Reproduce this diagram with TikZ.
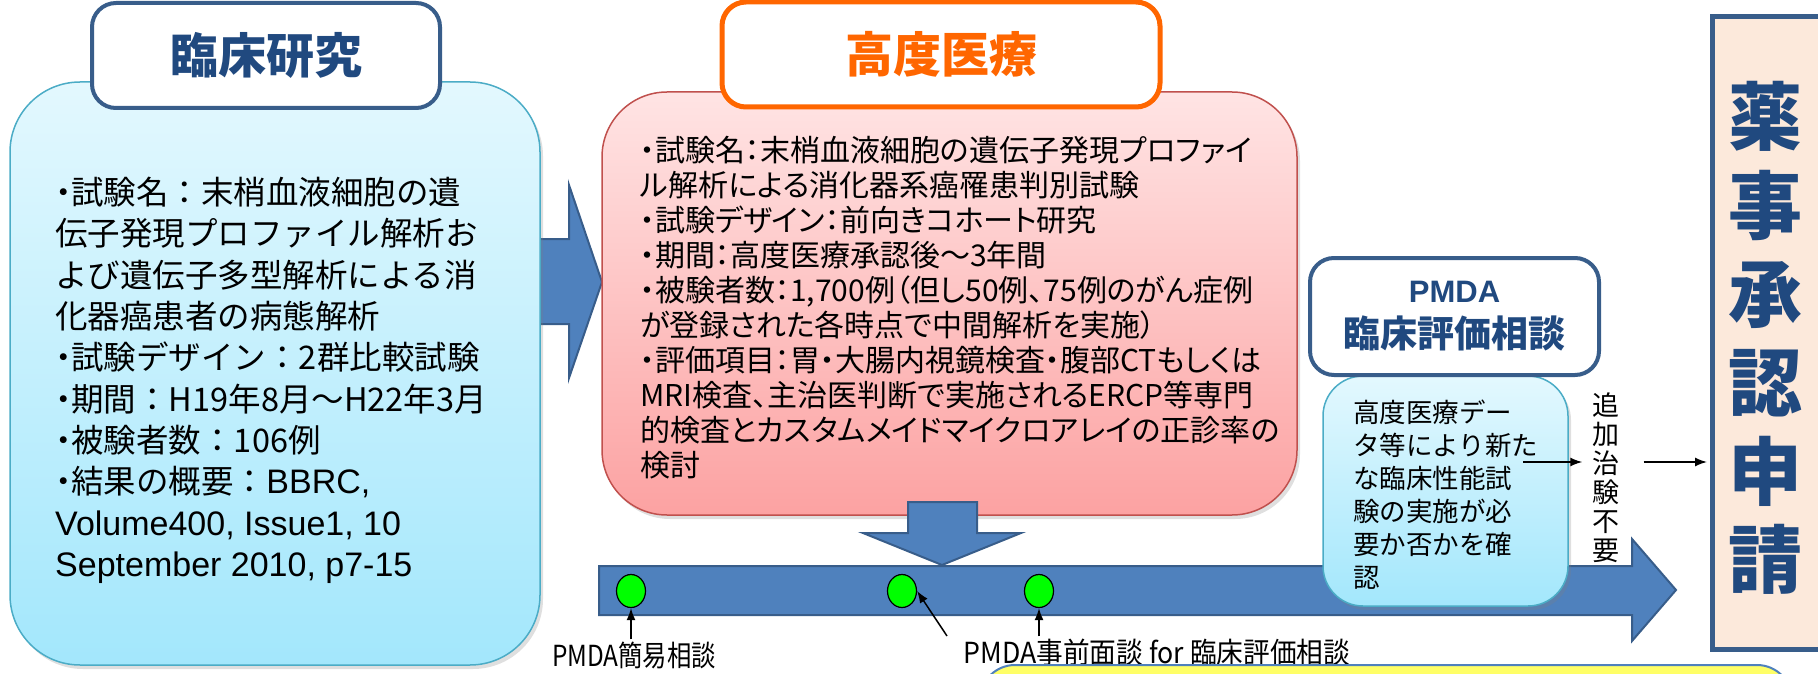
\documentclass[tikz,border=0pt]{standalone}
\usepackage{fontspec}
\setmainfont{Noto Sans CJK JP}
\newfontfamily\lat{Liberation Sans}
\newfontfamily\pj[RawFeature=+palt]{Noto Sans CJK JP}
\newfontfamily\nj[FakeStretch=0.84]{Noto Sans CJK JP}
\newfontfamily\njw[FakeStretch=0.92]{Noto Sans CJK JP}
\newcommand\bul{{\pj ・}}
\usetikzlibrary{shadows,arrows.meta,shapes.geometric}
\definecolor{navy}{HTML}{20497F}
\definecolor{boxblue}{HTML}{385D8A}
\definecolor{arrowfill}{HTML}{4F81BD}
\definecolor{cyanborder}{HTML}{4BACC6}
\definecolor{cyantop}{HTML}{E3F8FE}
\definecolor{cyanbot}{HTML}{A3E7FC}
\definecolor{pinkborder}{HTML}{C0504D}
\definecolor{pinktop}{HTML}{FFE4E4}
\definecolor{pinkbot}{HTML}{FCA2A2}
\definecolor{orangeC}{HTML}{FF6600}
\definecolor{peach}{HTML}{FCE9DB}
\definecolor{yellowC}{HTML}{FFFF66}
\definecolor{greenC}{HTML}{00FF00}
\tikzset{
  rbox/.style={anchor=north west, inner sep=0pt, outer sep=0pt},
  shade/.style={drop shadow={opacity=0.25, shadow xshift=3pt, shadow yshift=-4pt}},
  cyanbox/.style={rbox, draw=cyanborder, line width=1.5pt, top color=cyantop, bottom color=cyanbot, shade},
  pinkbox/.style={rbox, draw=pinkborder, line width=1.5pt, top color=pinktop, bottom color=pinkbot, rounded corners=65pt, shade},
  titlebox/.style={rbox, fill=white, rounded corners=24pt},
  blockarrow/.style={fill=arrowfill, draw=boxblue, line width=2pt, line join=miter},
  txt/.style={anchor=north west, inner sep=0pt, align=left},
  dot/.style={ellipse, draw=black, line width=1.2pt, fill=greenC, minimum width=29pt, minimum height=33pt, inner sep=0pt},
  conn/.style={draw=black, line width=1.5pt, -{Latex[length=12pt,width=9pt]}},
  lbl/.style={inner sep=2pt, font=\nj\fontsize{29}{32}\selectfont},
}
\begin{document}
\begin{tikzpicture}[x=1pt,y=-1pt]
\useasboundingbox (0,0) rectangle (1818,674);
\clip (0,0) rectangle (1818,674);

% arrow from clinical research to advanced medicine
\draw[blockarrow] (536,239) -- (569,239) -- (569,185) -- (602,282) -- (569,378) -- (569,324) -- (536,324) -- cycle;

% clinical research
\node[cyanbox, rounded corners=70pt, minimum width=530pt, minimum height=583pt] (clinbox) at (10,82) {};
\node[titlebox, draw=boxblue, line width=4pt, minimum width=348pt, minimum height=105pt, font=\fontsize{48}{54}\selectfont\bfseries, text=navy] (clintitle) at (92,3) {臨床研究};
\node[txt, font=\fontsize{32.5}{41.3}\selectfont] (clintext) at (55,177) {\bul 試験名：末梢血液細胞の遺\\伝子発現プロファイル解析お\\よび遺伝子多型解析による消\\化器癌患者の病態解析\\\bul 試験デザイン：2群比較試験\\\bul 期間：H19年8月～H22年3月\\\bul 被験者数：106例\\\bul 結果の概要：{\lat\fontsize{34}{41.3}\selectfont BBRC,}\\{\lat\fontsize{34}{41.3}\selectfont Volume400, Issue1, 10}\\{\lat\fontsize{34}{41.3}\selectfont September 2010, p7-15}};

% advanced medicine
\node[pinkbox, minimum width=695pt, minimum height=423pt] (advbox) at (602,92) {};
\node[titlebox, draw=orangeC, line width=5pt, minimum width=438pt, minimum height=105pt, font=\fontsize{48}{54}\selectfont\bfseries, text=orangeC] (advtitle) at (722,2) {高度医療};
\node[txt, font=\pj\fontsize{30}{35}\selectfont] (advtext) at (640,136) {・試験名：末梢血液細胞の遺伝子発現プロファイ\\ル解析による消化器系癌罹患判別試験\\・試験デザイン：前向きコホート研究\\・期間：高度医療承認後～3年間\\・被験者数：1,700例（但し50例、75例のがん症例\\が登録された各時点で中間解析を実施）\\・評価項目：胃・大腸内視鏡検査・腹部CTもしくは\\MRI検査、主治医判断で実施されるERCP等専門\\的検査とカスタムメイドマイクロアレイの正診率の\\検討};

% timeline
\draw[blockarrow] (599,566) -- (1632,566) -- (1632,539) -- (1676,590) -- (1632,641) -- (1632,615) -- (599,615) -- cycle;
% down arrow
\draw[blockarrow] (908,502) -- (977,502) -- (977,533) -- (1021,533) -- (942,565) -- (863,533) -- (908,533) -- cycle;

\node[dot] (c1) at (631,591) {};
\node[dot] (c2) at (902,591) {};
\node[dot] (c3) at (1039,591) {};

\node[lbl] (lab1) at (634,655) {PMDA簡易相談};
\node[lbl, font=\njw\fontsize{29}{32}\selectfont] (lab2) at (1157,652) {PMDA事前面談 for 臨床評価相談};
\coordinate (d2s) at (947,636);
\draw[conn] (lab1.north -| c1) -- (c1.south);
\draw[conn] (d2s) -- (c2.east);
\draw[conn] (lab2.north -| c3) -- (c3.south);

% yellow box (cut off)
\node[rbox, draw=arrowfill, line width=2pt, fill=yellowC, rounded corners=35pt, minimum width=812pt, minimum height=80pt] (ybox) at (980,665) {};

% PMDA consultation
\node[cyanbox, rounded corners=40pt, minimum width=245pt, minimum height=230pt] (chkbox) at (1323,376) {};
\node[titlebox, draw=boxblue, line width=4pt, minimum width=289pt, minimum height=117pt, text=navy, align=center, font=\fontsize{37}{45}\selectfont\bfseries] (pmdabox) at (1310,258) {{\lat\fontsize{31}{45}\selectfont\bfseries PMDA}\\臨床評価相談};
\node[txt, font=\fontsize{26.5}{33}\selectfont] (chktext) at (1353,400) {高度医療デー\\タ等により新た\\な臨床性能試\\験の実施が必\\要か否かを確\\認};

\node[inner xsep=10pt, inner ysep=0pt, align=center, font=\fontsize{27}{29}\selectfont] (skip) at (1606,478) {追\\加\\治\\験\\不\\要};
\coordinate (a1s) at (1523,462);

% approval application
\node[rbox, draw=boxblue, line width=5pt, fill=peach, minimum width=125pt, minimum height=632pt] (approval) at (1712,17) {};
\node[inner sep=0pt, align=center, text=navy, font=\fontsize{74}{88.6}\selectfont\bfseries] (apptext) at (1765,338) {薬\\事\\承\\認\\申\\請};

\draw[conn] (a1s) -- (skip.west |- a1s);
\draw[conn, shorten <=14pt, shorten >=5pt] (skip.east |- a1s) -- (approval.west |- a1s);
\end{tikzpicture}
\end{document}
